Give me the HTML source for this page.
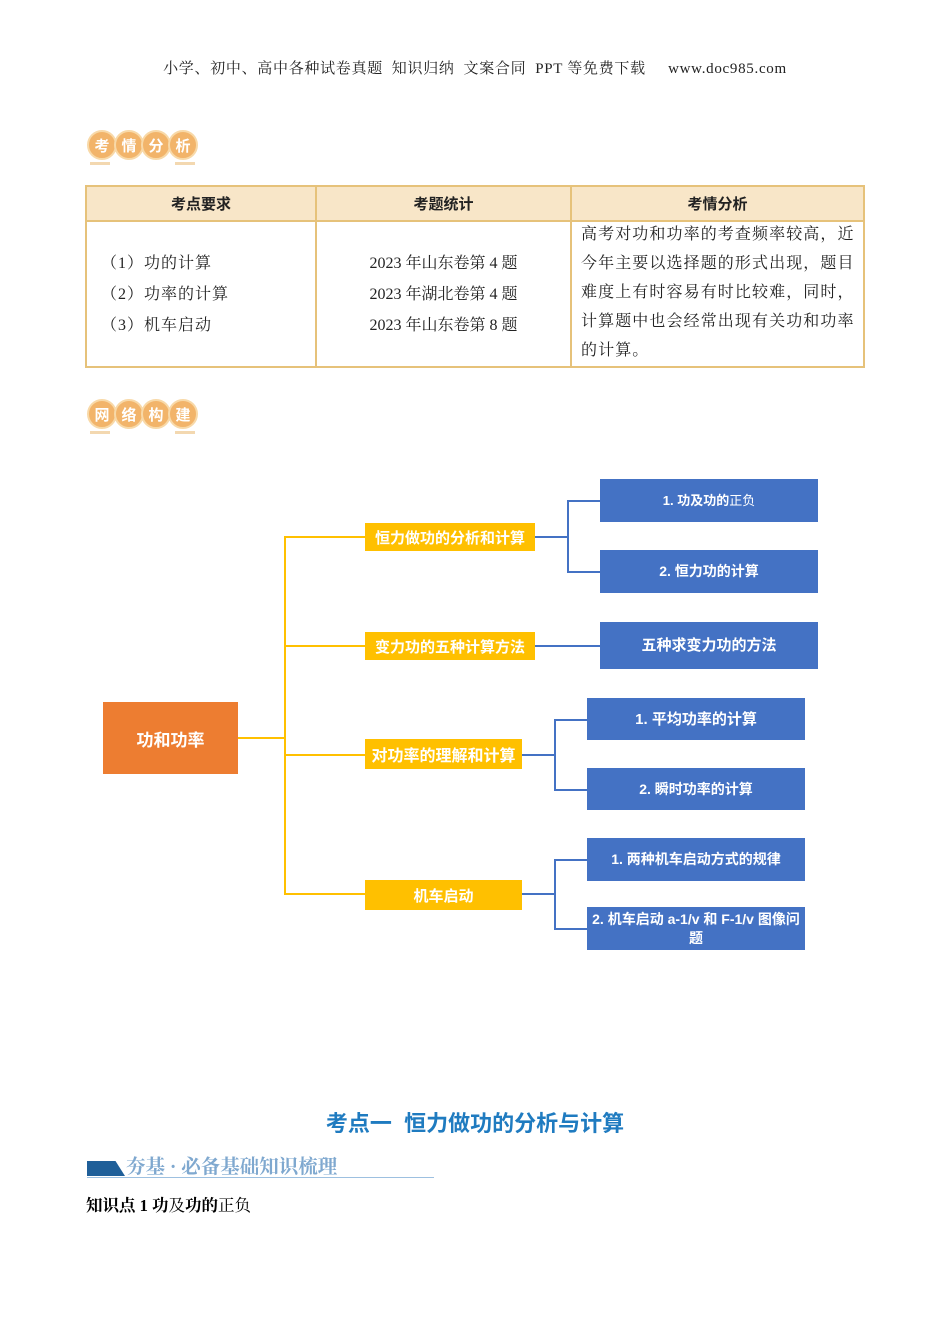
<!DOCTYPE html>
<html><head><meta charset="utf-8"><style>
body{margin:0;width:950px;height:1344px;background:#fff;position:relative;font-family:"Liberation Serif","Noto Serif CJK SC",serif;overflow:hidden}
.a{position:absolute}
.s{font-family:"Liberation Sans","Noto Sans CJK SC",sans-serif}
.y{position:absolute;background:#FFC000;color:#fff;font-weight:bold;font-size:15px;display:flex;align-items:center;justify-content:center;font-family:"Liberation Sans","Noto Sans CJK SC",sans-serif}
.b{position:absolute;background:#4472C4;color:#fff;font-weight:bold;font-size:14px;display:flex;align-items:center;justify-content:center;text-align:center;line-height:19px;font-family:"Liberation Sans","Noto Sans CJK SC",sans-serif}
.ly{position:absolute;background:#FFC000}
.lb{position:absolute;background:#4472C4}
.c{position:absolute;width:26px;height:26px;border-radius:50%;background:#F2B46A;border:2px solid #F8D9A8;color:#fff;font-weight:bold;font-size:15px;display:flex;align-items:center;justify-content:center;font-family:"Liberation Sans","Noto Sans CJK SC",sans-serif}
.u{position:absolute;height:3px;width:20px;background:#F3D8B0}
td{border:2px solid #E6C27A;vertical-align:middle;padding:0}
</style></head><body>
<div class="a" style="left:0;width:950px;top:57px;text-align:center;font-size:15px;letter-spacing:0.7px;color:#222">小学、初中、高中各种试卷真题&nbsp; 知识归纳&nbsp; 文案合同&nbsp; PPT 等免费下载&nbsp;&nbsp;&nbsp;&nbsp; www.doc985.com</div>

<div class="c" style="left:87px;top:130px">考</div><div class="c" style="left:114px;top:130px">情</div><div class="c" style="left:141px;top:130px">分</div><div class="c" style="left:168px;top:130px">析</div>
<div class="u" style="left:90px;top:162px"></div><div class="u" style="left:175px;top:162px"></div>

<table class="a" style="left:85px;top:185px;width:780px;height:183px;border-collapse:collapse;font-size:16px;color:#222">
<tr style="height:35px;background:#F8E6C8"><td style="width:228px;text-align:center;font-weight:bold;font-size:15px" class="s">考点要求</td><td style="width:253px;text-align:center;font-weight:bold;font-size:15px" class="s">考题统计</td><td style="text-align:center;font-weight:bold;font-size:15px" class="s">考情分析</td></tr>
<tr><td style="padding-left:14px;line-height:31px;letter-spacing:1px">（1）功的计算<br>（2）功率的计算<br>（3）机车启动</td><td style="text-align:center;line-height:31px">2023 年山东卷第 4 题<br>2023 年湖北卷第 4 题<br>2023 年山东卷第 8 题</td><td style="padding:0 2px 0 9px;line-height:29px;letter-spacing:1.1px;vertical-align:top"><div style="margin-top:-2px">高考对功和功率的考查频率较高，近今年主要以选择题的形式出现，题目难度上有时容易有时比较难，同时，计算题中也会经常出现有关功和功率的计算。</div></td></tr>
</table>

<div class="c" style="left:87px;top:399px">网</div><div class="c" style="left:114px;top:399px">络</div><div class="c" style="left:141px;top:399px">构</div><div class="c" style="left:168px;top:399px">建</div>
<div class="u" style="left:90px;top:431px"></div><div class="u" style="left:175px;top:431px"></div>

<div class="ly" style="left:238px;top:737px;width:47px;height:2px"></div>
<div class="ly" style="left:284px;top:536px;width:2px;height:358px"></div>
<div class="ly" style="left:284px;top:536px;width:81px;height:2px"></div>
<div class="ly" style="left:284px;top:645px;width:81px;height:2px"></div>
<div class="ly" style="left:284px;top:754px;width:81px;height:2px"></div>
<div class="ly" style="left:284px;top:893px;width:81px;height:2px"></div>

<div class="lb" style="left:535px;top:536px;width:33px;height:2px"></div>
<div class="lb" style="left:567px;top:500px;width:2px;height:72px"></div>
<div class="lb" style="left:567px;top:500px;width:33px;height:2px"></div>
<div class="lb" style="left:567px;top:571px;width:33px;height:2px"></div>
<div class="lb" style="left:535px;top:645px;width:65px;height:2px"></div>
<div class="lb" style="left:522px;top:754px;width:33px;height:2px"></div>
<div class="lb" style="left:554px;top:719px;width:2px;height:72px"></div>
<div class="lb" style="left:554px;top:719px;width:33px;height:2px"></div>
<div class="lb" style="left:554px;top:789px;width:33px;height:2px"></div>
<div class="lb" style="left:522px;top:893px;width:33px;height:2px"></div>
<div class="lb" style="left:554px;top:859px;width:2px;height:70px"></div>
<div class="lb" style="left:554px;top:859px;width:33px;height:2px"></div>
<div class="lb" style="left:554px;top:928px;width:33px;height:2px"></div>

<div class="a s" style="left:103px;top:702px;width:135px;height:72px;background:#ED7D31;color:#fff;font-weight:bold;font-size:17px;display:flex;align-items:center;justify-content:center">功和功率</div>

<div class="y" style="left:365px;top:523px;width:170px;height:28px">恒力做功的分析和计算</div>
<div class="y" style="left:365px;top:632px;width:170px;height:28px">变力功的五种计算方法</div>
<div class="y" style="left:365px;top:739px;width:157px;height:30px;font-size:16px">对功率的理解和计算</div>
<div class="y" style="left:365px;top:880px;width:157px;height:30px">机车启动</div>

<div class="b" style="left:600px;top:479px;width:218px;height:43px;font-size:13px">1. 功及功的<span style="font-weight:normal">正负</span></div>
<div class="b" style="left:600px;top:550px;width:218px;height:43px">2. 恒力功的计算</div>
<div class="b" style="left:600px;top:622px;width:218px;height:47px;font-size:15px">五种求变力功的方法</div>
<div class="b" style="left:587px;top:698px;width:218px;height:42px;font-size:15px">1. 平均功率的计算</div>
<div class="b" style="left:587px;top:768px;width:218px;height:42px">2. 瞬时功率的计算</div>
<div class="b" style="left:587px;top:838px;width:218px;height:43px">1. 两种机车启动方式的规律</div>
<div class="b" style="left:587px;top:907px;width:218px;height:43px">2. 机车启动 a-1/v 和 F-1/v 图像问题</div>

<div class="a s" style="left:0;width:950px;top:1106px;text-align:center;font-size:22px;font-weight:bold;color:#1F7BC0">考点一&nbsp; 恒力做功的分析与计算</div>
<div class="a" style="left:87px;top:1161px;width:38px;height:15px;background:#1F5F99;clip-path:polygon(0 0,75% 0,100% 100%,0 100%)"></div>
<div class="a" style="left:126px;top:1151px;font-size:19.5px;font-weight:bold;color:#7FA8CF">夯基 · 必备基础知识梳理</div>
<div class="a" style="left:87px;top:1177px;width:347px;height:1px;background:#9DC0E0"></div>
<div class="a" style="left:86px;top:1192px;font-size:16.5px;color:#000"><b>知识点 1 功</b>及<b>功的</b>正负</div>
</body></html>
